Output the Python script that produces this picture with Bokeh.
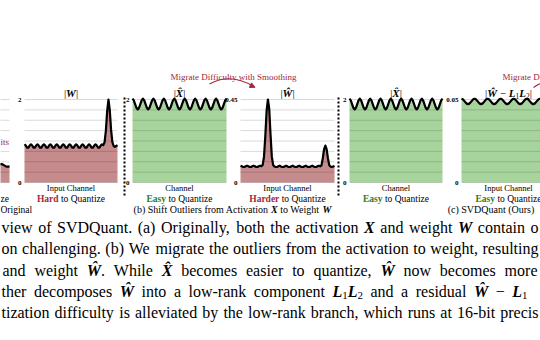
from bokeh.plotting import figure
from bokeh.models import Range1d, ColumnDataSource, Arrow, NormalHead
from bokeh.core.properties import value, field
from bokeh.embed import file_html
from bokeh.resources import INLINE

# ---------------- data ----------------
channels = list(range(73))

# (a) |X| panel: only its right-most channels are visible
x_abs_tail_channels = [64, 65, 66, 67, 68, 69, 70, 71, 72]
x_abs_tail = [3.45, 3.55, 3.55, 3.45, 3.30, 3.15, 3.05, 3.05, 3.10]

# (a) |W|
w_abs = [0.92, 0.89, 0.84, 0.84, 0.89, 0.92, 0.89, 0.84, 0.84, 0.89,
         0.92, 0.89, 0.84, 0.84, 0.89, 0.92, 0.89, 0.84, 0.84, 0.89,
         0.92, 0.89, 0.84, 0.84, 0.89, 0.92, 0.89, 0.84, 0.84, 0.89,
         0.92, 0.89, 0.84, 0.84, 0.89, 0.92, 0.89, 0.84, 0.84, 0.89,
         0.92, 0.89, 0.84, 0.84, 0.89, 0.92, 0.89, 0.84, 0.84, 0.89,
         0.92, 0.89, 0.84, 0.84, 0.89, 0.92, 0.89, 0.84, 0.84, 0.89,
         0.92, 0.90, 0.97, 1.25, 1.72, 2.00, 1.75, 1.28, 0.98, 0.88,
         0.86, 0.88, 0.90]

# (b)/(c) |X^| after smoothing
x_hat = [2.02, 1.98, 1.89, 1.80, 1.76, 1.80, 1.89, 1.98,
         2.02, 1.98, 1.89, 1.80, 1.76, 1.80, 1.89, 1.98,
         2.02, 1.98, 1.89, 1.80, 1.76, 1.80, 1.89, 1.98,
         2.02, 1.98, 1.89, 1.80, 1.76, 1.80, 1.89, 1.98,
         2.02, 1.98, 1.89, 1.80, 1.76, 1.80, 1.89, 1.98,
         2.02, 1.98, 1.89, 1.80, 1.76, 1.80, 1.89, 1.98,
         2.02, 1.98, 1.89, 1.80, 1.76, 1.80, 1.89, 1.98,
         2.02, 1.98, 1.89, 1.80, 1.76, 1.80, 1.89, 1.98,
         2.02, 1.98, 1.89, 1.80, 1.76, 1.80, 1.89, 1.98,
         2.02]

# (b) |W^| after smoothing
w_hat = [0.091, 0.088, 0.084, 0.084, 0.088, 0.091, 0.088, 0.084, 0.084, 0.088,
         0.091, 0.088, 0.084, 0.084, 0.088, 0.091, 0.089,
         0.095, 0.14, 0.25, 0.39, 0.45, 0.40, 0.26, 0.14, 0.095,
         0.087, 0.084, 0.084, 0.088, 0.091, 0.087, 0.084, 0.084, 0.088, 0.091,
         0.087, 0.084, 0.084, 0.088, 0.091, 0.087, 0.084, 0.084, 0.088, 0.091,
         0.087, 0.084, 0.084, 0.088, 0.091, 0.087, 0.084, 0.084, 0.088, 0.091,
         0.087, 0.084, 0.084, 0.088, 0.091, 0.088,
         0.092, 0.13, 0.18, 0.20, 0.18, 0.13, 0.094,
         0.086, 0.084, 0.087, 0.090]

# (c) |W^ - L1L2| residual
w_resid = [0.0504, 0.0501, 0.0493, 0.0483, 0.0475, 0.0472, 0.0475, 0.0483, 0.0493, 0.0501,
           0.0504, 0.0501, 0.0493, 0.0483, 0.0475, 0.0472, 0.0475, 0.0483, 0.0493, 0.0501,
           0.0504, 0.0501, 0.0493, 0.0483, 0.0475, 0.0472, 0.0475, 0.0483, 0.0493, 0.0501,
           0.0504, 0.0501, 0.0493, 0.0483, 0.0475, 0.0472, 0.0475, 0.0483, 0.0493, 0.0501,
           0.0504, 0.0501, 0.0493, 0.0483, 0.0475, 0.0472, 0.0475, 0.0483, 0.0493, 0.0501,
           0.0504, 0.0501, 0.0493, 0.0483, 0.0475, 0.0472, 0.0475, 0.0483, 0.0493, 0.0501,
           0.0504, 0.0501, 0.0493, 0.0483, 0.0475, 0.0472, 0.0475, 0.0483, 0.0493, 0.0501,
           0.0504, 0.0501, 0.0493]

grid_fractions = [0.0, 0.125, 0.25, 0.375, 0.5, 0.625, 0.75, 0.875, 1.0]
top_tick_labels = ["16", "2", "2", "0.45", "2", "0.05"]

# ---------------- styling ----------------
FONT = "Liberation Serif"
RED_FILL = "#c68b8c"
GREEN_FILL = "#a7d49c"
RED_TXT = "#a3283c"
GREEN_TXT = "#2f7d22"
W, H = 540, 340
YTOP, YBOT = 99, 182

p = figure(width=W, height=H, x_range=Range1d(0, W), y_range=Range1d(H, 0),
           x_axis_type=None, y_axis_type=None, toolbar_location=None,
           output_backend="svg", min_border=0, outline_line_color=None,
           background_fill_color="white", border_fill_color="white")

# panel boxes (pixel layout): name, left, right, max value, curve channels, curve values, fill
panels = [
    ("a_x", -85, 9, 16.0, x_abs_tail_channels, x_abs_tail, RED_FILL),
    ("a_w", 24, 117, 2.0, channels, w_abs, RED_FILL),
    ("b_x", 132, 226, 2.0, channels, x_hat, GREEN_FILL),
    ("b_w", 240, 334, 0.45, channels, w_hat, RED_FILL),
    ("c_x", 349, 442, 2.0, channels, x_hat, GREEN_FILL),
    ("c_w", 461, 555, 0.05, channels, w_resid, GREEN_FILL),
]

xr, yr = {}, {}
n = len(channels)
for name, x0, x1, vmax, _, _, _ in panels:
    sx = (n - 1) / (x1 - x0)
    xs = -x0 * sx
    xr[name] = Range1d(xs, xs + W * sx)
    sy = vmax / (YBOT - YTOP)
    ys = -(H - YBOT) * sy
    yr[name] = Range1d(ys, ys + H * sy)
p.extra_x_ranges = xr
p.extra_y_ranges = yr

for name, x0, x1, vmax, ch, vals, fill in panels:
    kw = dict(x_range_name=name, y_range_name=name)
    p.varea(x=ch, y1=0, y2=vals, fill_color=fill, **kw)
    levels = [f * vmax for f in grid_fractions]
    p.segment(x0=[0] * len(levels), x1=[n - 1] * len(levels), y0=levels, y1=levels,
              line_color="black", line_alpha=0.15, line_width=1, **kw)
    p.line(x=ch, y=vals, line_color="black", line_width=2.2, line_join="round", **kw)

# dotted separators
p.segment(x0=[124, 338], x1=[124, 338], y0=[97, 97], y1=[196, 196],
          line_color="black", line_width=2, line_dash="2 2")

# arrows
p.quadratic(x0=[209], y0=[83.5], x1=[253], y1=[86], cx=[230], cy=[72],
            line_color=RED_TXT, line_width=1.1)
p.add_layout(Arrow(end=NormalHead(size=5, fill_color=RED_TXT, line_color=RED_TXT),
                   x_start=249, y_start=84.2, x_end=254.5, y_end=86.8,
                   line_color=RED_TXT, line_width=1.1))
p.quadratic(x0=[533], y0=[87], x1=[585], y1=[86], cx=[558], cy=[70],
            line_color=RED_TXT, line_width=1.1)

# ---------------- text ----------------
REG = {' ': 250, '(': 333, ')': 333, '.': 250, ',': 250, '-': 333, '|': 200, '−': 564, '\u0302': 0}
for d in "0123456789":
    REG[d] = 500
REG.update(dict(zip("abcdefghijklmnopqrstuvwxyz",
                    [444, 500, 444, 500, 444, 333, 500, 500, 278, 278, 500, 278, 778,
                     500, 500, 500, 500, 333, 389, 278, 500, 500, 722, 500, 500, 444])))
REG.update(dict(zip("ABCDEFGHIJKLMNOPQRSTUVWXYZ",
                    [722, 667, 667, 722, 611, 556, 722, 722, 333, 389, 722, 611, 889,
                     722, 722, 556, 722, 667, 556, 611, 722, 722, 944, 722, 722, 611])))
BOLD = dict(REG)
BOLD.update(dict(zip("abcdefghijklmnopqrstuvwxyz",
                     [500, 556, 444, 556, 444, 333, 500, 556, 278, 333, 556, 278, 833,
                      556, 500, 556, 556, 444, 389, 333, 556, 500, 722, 500, 500, 444])))
BOLD.update({'E': 667, 'H': 778})
BI = dict(REG)
BI.update({'X': 667, 'W': 889, 'L': 611, 'Ŵ': 889})


def tw(s, style, size):
    tbl = BI if style == "bold italic" else (BOLD if style == "bold" else REG)
    return sum(tbl.get(c, 500) for c in s) * size / 1000.0


T = dict(x=[], y=[], text=[], size=[], style=[], color=[], align=[])


def put(x, y, s, size, style="normal", color="black", align="left"):
    T["x"].append(x)
    T["y"].append(y)
    T["text"].append(s)
    T["size"].append(f"{size:.2f}px")
    T["style"].append(style)
    T["color"].append(color)
    T["align"].append(align)


def P(t, st="normal", c="black", sc=1.0, dy=0.0):
    return (t, st, c, sc, dy)


def place_parts(x, y, parts, size):
    for t, st, c, sc, dy in parts:
        lead = len(t) - len(t.lstrip(" "))
        core = t.strip(" ")
        if core:
            put(x + tw(" " * lead, "normal", size * sc), y + dy, core, size * sc, st, c)
        x += tw(t, st, size * sc)
    return x


def parts_width(parts, size):
    return sum(tw(t, st, size * sc) for t, st, c, sc, dy in parts)


def mixed(cx, y, parts, size, align="center"):
    total = parts_width(parts, size)
    x = cx - total / 2 if align == "center" else (cx - total if align == "right" else cx)
    place_parts(x, y, parts, size)


def jline(y, groups, x0, x1, size):
    """groups: list of word groups (each a list of parts), spread evenly from x0 to x1"""
    ws = [parts_width(g, size) for g in groups]
    gap = (x1 - x0 - sum(ws)) / (len(groups) - 1)
    x = x0
    for g, w in zip(groups, ws):
        place_parts(x, y, g, size)
        x += w + gap


def words(s):
    return [[P(w)] for w in s.split(" ")]


BIs = "bold italic"
WH = [P("Ŵ", BIs)]
XH = [P("X\u0302", BIs)]


def Lsub(k):
    return [P("L", BIs), P(k, sc=0.68, dy=4)]


# red annotation
put(233, 76, "Migrate Difficulty with Smoothing", 9, color=RED_TXT, align="center")
put(502, 76, "Migrate D", 9, color=RED_TXT)
put(0, 141, "its", 9, color=RED_TXT)

# panel titles
centers = {name: (x0 + x1) / 2 for name, x0, x1, *_ in panels}
TS = 11
TY = 92.5
mixed(centers["a_w"], TY, [P("|"), P("W", BIs), P("|")], TS)
mixed(centers["b_x"], TY, [P("|"), P("X\u0302", BIs), P("|")], TS)
mixed(centers["b_w"], TY, [P("|"), P("Ŵ", BIs), P("|")], TS)
mixed(centers["c_x"], TY, [P("|"), P("X\u0302", BIs), P("|")], TS)
mixed(centers["c_w"], TY, [P("|"), P("Ŵ", BIs), P(" − "), P("L", BIs), P("1", sc=0.68, dy=2.5),
                           P("L", BIs), P("2", sc=0.68, dy=2.5), P("|")], TS)

# tick labels
for (name, x0, x1, vmax, *_), lab in zip(panels, top_tick_labels):
    if x0 < 0:
        continue
    put(x0 - 3, YTOP, lab, 7, "bold", align="right")
    put(x0 - 3, YBOT, "0", 7, "bold", align="right")

# channel labels and difficulty labels
for name, lab in [("a_w", "Input Channel"), ("b_x", "Channel"), ("b_w", "Input Channel"),
                  ("c_x", "Channel"), ("c_w", "Input Channel")]:
    put(centers[name], 187, lab, 8.5, align="center")
DS = 9.5
put(0, 198, "ze", DS)
mixed(centers["a_w"], 198, [P("Hard", "bold", RED_TXT), P(" to Quantize")], DS)
mixed(centers["b_x"], 198, [P("Easy", "bold", GREEN_TXT), P(" to Quantize")], DS)
mixed(centers["b_w"], 198, [P("Harder", "bold", RED_TXT), P(" to Quantize")], DS)
mixed(centers["c_x"], 198, [P("Easy", "bold", GREEN_TXT), P(" to Quantize")], DS)
mixed(centers["c_w"], 198, [P("Easy", "bold", GREEN_TXT), P(" to Quantize")], DS)

# sub-captions
put(0, 209, "Original", 9.5)
mixed(232, 209, [P("(b) Shift Outliers from Activation "), P("X", BIs),
                 P(" to Weight "), P("W", BIs)], 10)
put(490.5, 209, "(c) SVDQuant (Ours)", 10, align="center")

# caption (justified lines, visible part only)
CS = 16
L1, L2, L3, L4, L5 = 227, 248, 269.5, 291, 312
jline(L1, words("view of SVDQuant. (a) Originally, both the activation")
      + [[P("X", BIs)]] + words("and weight") + [[P("W", BIs)]] + words("contain o"),
      1, 538, CS)
jline(L2, words("on challenging. (b) We migrate the outliers from the activation to weight, resulting"),
      1, 538, CS)
jline(L3, words("and weight") + [[P("Ŵ", BIs), P(".")], [P("While")], XH]
      + words("becomes easier to quantize,") + [WH] + words("now becomes more"),
      2, 537, CS)
jline(L4, words("ther decomposes") + [WH] + words("into a low-rank component")
      + [Lsub("1") + Lsub("2")] + words("and a residual") + [WH, [P("−")], Lsub("1")],
      1, 527, CS)
jline(L5, words("tization difficulty is alleviated by the low-rank branch, which runs at 16-bit precis"),
      1, 538, CS)

src = ColumnDataSource(T)
p.text(x="x", y="y", text="text", source=src, text_font=value(FONT),
       text_font_size=field("size"), text_font_style=field("style"),
       text_color=field("color"), text_align=field("align"), text_baseline="middle")

open("out.html", "w").write(file_html(p, INLINE))
